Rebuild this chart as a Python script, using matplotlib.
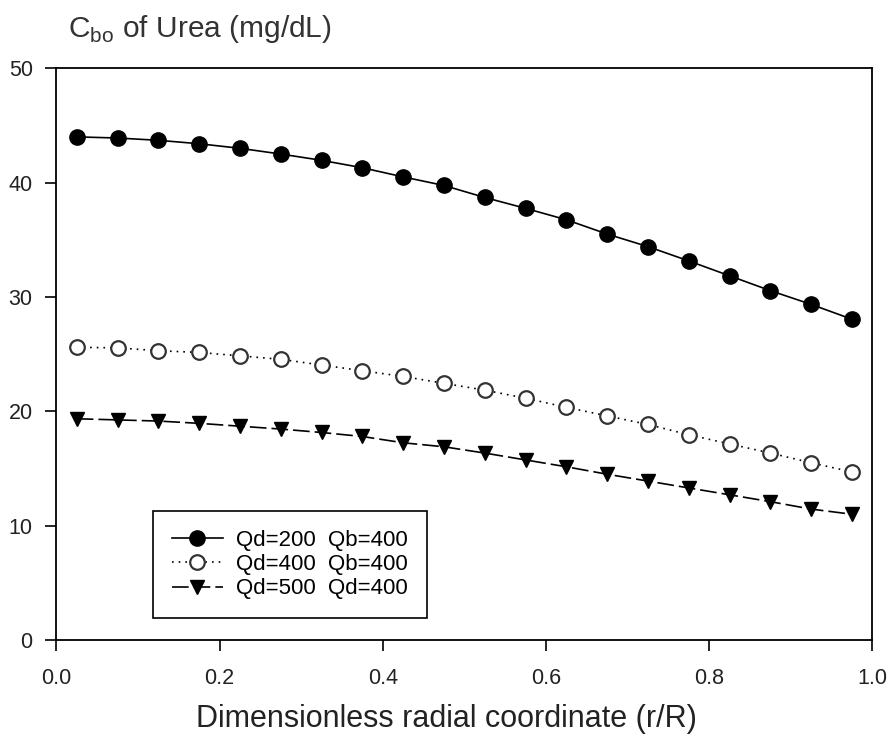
import matplotlib
matplotlib.use("Agg")
import matplotlib.pyplot as plt
import numpy as np

r = [0.025, 0.075, 0.125, 0.175, 0.225, 0.275, 0.325, 0.375, 0.425, 0.475,
     0.525, 0.575, 0.625, 0.675, 0.725, 0.775, 0.825, 0.875, 0.925, 0.975]
qd200 = [44.0, 43.9, 43.7, 43.4, 43.0, 42.5, 41.95, 41.3, 40.5, 39.75,
         38.7, 37.75, 36.75, 35.5, 34.4, 33.15, 31.85, 30.55, 29.35, 28.05]
qd400 = [25.6, 25.55, 25.3, 25.15, 24.85, 24.55, 24.05, 23.55, 23.05, 22.45,
         21.85, 21.15, 20.35, 19.6, 18.85, 17.95, 17.15, 16.35, 15.5, 14.7]
qd500 = [19.35, 19.25, 19.15, 18.95, 18.7, 18.45, 18.15, 17.8, 17.25, 16.9,
         16.35, 15.75, 15.15, 14.5, 13.9, 13.3, 12.7, 12.1, 11.45, 11.0]
labels = ["Qd=200  Qb=400", "Qd=400  Qb=400", "Qd=500  Qd=400"]
xticks = [0.0, 0.2, 0.4, 0.6, 0.8, 1.0]
yticks = [0, 10, 20, 30, 40, 50]

plt.rcParams['font.family'] = ['Liberation Sans', 'DejaVu Sans']
plt.rcParams['mathtext.fontset'] = 'custom'
plt.rcParams['mathtext.rm'] = 'Liberation Sans'

fig = plt.figure(figsize=(8.9, 7.34), dpi=100)
ax = fig.add_axes([0.0633, 0.128, 0.917, 0.779])

ax.plot(r, qd200, color='black', lw=1.2, ls='-', marker='o', ms=11,
        mfc='black', mec='black', label=labels[0])
ax.plot(r, qd400, color='black', lw=1.2, ls=(0, (1, 3)), marker='o', ms=10.5,
        mfc='white', mec='#333333', mew=1.6, label=labels[1])
ax.plot(r, qd500, color='black', lw=1.2, ls=(0, (10, 3)), marker='v', ms=9.5,
        mfc='black', mec='black', label=labels[2])

ax.set_xlim(0, 1.0)
ax.set_ylim(0, 50)
ax.set_xticks(xticks)
ax.set_xticklabels([f"{v:.1f}" for v in xticks])
ax.set_yticks(yticks)
ax.set_yticklabels([str(v) for v in yticks])
ax.tick_params(axis='both', direction='out', length=8, width=1.2, color='black',
               labelsize=15.5, labelcolor='#222222')
ax.tick_params(axis='y', pad=9)
ax.tick_params(axis='x', pad=12)
for s in ax.spines.values():
    s.set_linewidth(1.3)

fig.text(0.5017, 1 - 727 / 734, "Dimensionless radial coordinate (r/R)",
         fontsize=22, color='#222222', ha='center', va='baseline')
fig.text(68 / 890, 1 - 37 / 734, r"C$_{\mathrm{bo}}$ of Urea (mg/dL)", fontsize=21.5,
         color='#333333', ha='left', va='baseline')

leg = ax.legend(loc='lower left', bbox_to_anchor=(0.1185, 0.038), fontsize=16,
                frameon=True, fancybox=False, edgecolor='black', framealpha=1,
                handlelength=2.3, borderpad=0.85, labelspacing=0.15,
                handletextpad=0.6, borderaxespad=0)
leg.get_frame().set_linewidth(1.2)

fig.savefig("out.png", dpi=100)
